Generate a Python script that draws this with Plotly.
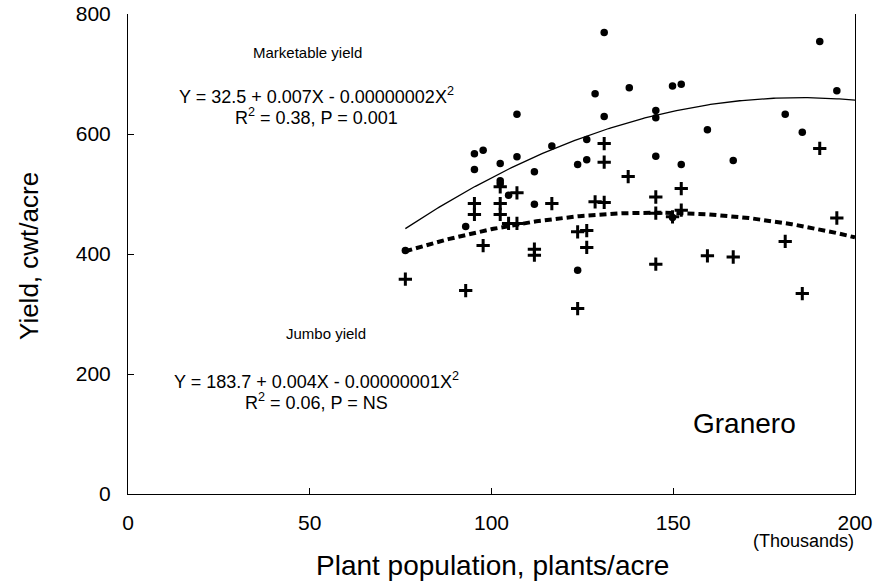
import numpy as np
import plotly.graph_objects as go

# Plant population (thousands of plants/acre) for each plot
population = [131.0, 128.5, 137.9, 107.0, 131.0, 95.3, 97.7, 95.3, 102.4, 107.0,
              116.6, 126.2, 123.7, 126.2, 111.8, 102.4, 102.4, 104.7, 111.8, 149.8,
              152.2, 190.3, 195.0, 145.2, 145.2, 180.8, 159.4, 185.5, 145.2, 152.2,
              166.5, 92.9, 76.3, 123.7, 149.8]
marketable = [769, 667, 677, 633, 629, 567, 573, 541, 551, 562,
              580, 591, 549, 557, 537, 522, 517, 498, 483, 680,
              683, 754, 672, 639, 627, 633, 607, 603, 563, 549,
              556, 446, 406, 373, 461]

jumbo_population = [131.0, 131.0, 137.6, 102.4, 107.0, 95.3, 102.4, 116.6, 128.5, 131.0,
                    95.3, 102.4, 104.7, 107.0, 123.7, 126.2, 97.7, 111.8, 111.8, 126.2,
                    76.3, 92.9, 123.7, 145.2, 152.2, 152.2, 145.2, 149.8, 190.3, 195.0,
                    180.8, 145.2, 159.4, 166.5, 185.5]
jumbo = [584, 553, 529, 512, 502, 484, 484, 484, 487, 486,
         466, 466, 451, 451, 437, 439, 414, 408, 398, 411,
         358, 339, 309, 495, 509, 473, 468, 462, 576, 460,
         421, 383, 397, 395, 334]

# Quadratic fit coefficients as drawn (x in thousands)
mkt_coef = [28.4, 6.834, -0.01847]
jumbo_coef = [182.0, 3.9585, -0.01365]
fit_range = [76.3, 200]

x_ticks = [0, 50, 100, 150, 200]
y_ticks = [0, 200, 400, 600, 800]

FONT = "Liberation Sans, Arial, sans-serif"
W, H = 874, 584
PL, PR, PT, PB = 128, 855, 14, 494  # plot area in pixels

xf = np.linspace(fit_range[0], fit_range[1], 200)
y_mkt = mkt_coef[0] + mkt_coef[1] * xf + mkt_coef[2] * xf ** 2
y_jum = jumbo_coef[0] + jumbo_coef[1] * xf + jumbo_coef[2] * xf ** 2

fig = go.Figure()
fig.add_trace(go.Scatter(x=xf, y=y_mkt, mode="lines",
                         line=dict(color="black", width=1.3), showlegend=False))
fig.add_trace(go.Scatter(x=xf, y=y_jum, mode="lines",
                         line=dict(color="black", width=4, dash="7px,4px"), showlegend=False))
fig.add_trace(go.Scatter(x=population, y=marketable, mode="markers",
                         marker=dict(symbol="circle", size=7.5, color="black"),
                         showlegend=False))
fig.add_trace(go.Scatter(x=jumbo_population, y=jumbo, mode="markers",
                         marker=dict(symbol="cross-thin", size=9.5,
                                     line=dict(color="black", width=3)),
                         showlegend=False))


def add_text(px, py, text, size, xanchor="center", angle=0):
    fig.add_annotation(x=(px - PL) / (PR - PL), y=(PB - py) / (PB - PT),
                       xref="paper", yref="paper", text=text, showarrow=False,
                       xanchor=xanchor, yanchor="middle", textangle=angle,
                       font=dict(family=FONT, size=size, color="black"))


add_text(307, 52, "Marketable yield", 15)
add_text(316, 96, "Y = 32.5 + 0.007X - 0.00000002X<sup>2</sup>", 18)
add_text(316, 116, "R<sup>2</sup> = 0.38, P = 0.001", 18)
add_text(326, 333, "Jumbo yield", 15)
add_text(316, 380, "Y = 183.7 + 0.004X - 0.00000001X<sup>2</sup>", 18)
add_text(316, 401, "R<sup>2</sup> = 0.06, P = NS", 18)
add_text(744, 423, "Granero", 28)
add_text(856, 541, "(Thousands)", 18, xanchor="right")
add_text(492, 565, "Plant population, plants/acre", 28)
add_text(29, 256, "Yield, cwt/acre", 26, angle=-90)

fig.update_layout(
    width=W, height=H, autosize=False,
    margin=dict(l=PL, r=W - PR, t=PT, b=H - PB),
    plot_bgcolor="white", paper_bgcolor="white",
    font=dict(family=FONT, color="black"),
    xaxis=dict(range=[0, 200], tickvals=x_ticks, ticks="inside", ticklen=6,
               tickcolor="black", showline=True, linecolor="black", linewidth=1,
               showgrid=False, zeroline=False, tickfont=dict(size=21),
               automargin=False, ticklabelstandoff=10, ticklabeloverflow="allow"),
    yaxis=dict(range=[0, 800], tickvals=y_ticks, ticks="inside", ticklen=6,
               tickcolor="black", showline=True, linecolor="black", linewidth=1,
               mirror=True, showgrid=False, zeroline=False, tickfont=dict(size=21),
               automargin=False, ticklabelstandoff=12, ticklabeloverflow="allow"),
)

fig.write_html("out.html",
               config={"displayModeBar": False},
               post_script="document.body.style.margin='0';"
                           "document.body.style.overflow='hidden';")
